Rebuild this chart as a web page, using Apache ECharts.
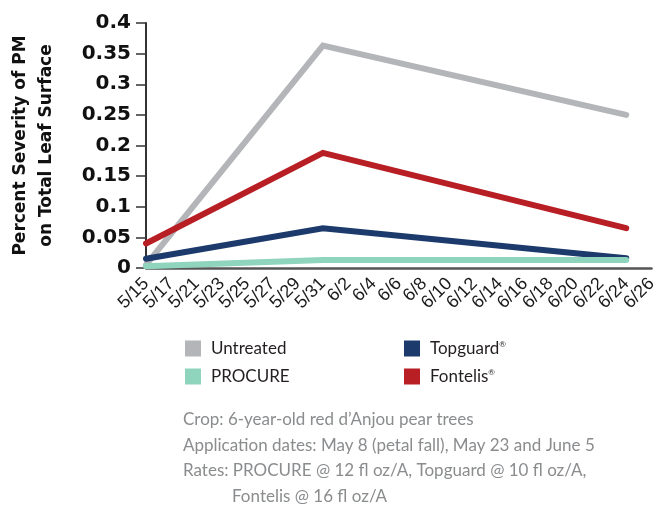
<!DOCTYPE html>
<html><head><meta charset="utf-8">
<script src="https://cdn.jsdelivr.net/npm/echarts@6/dist/echarts.min.js"></script>
<style>html,body{margin:0;padding:0;background:#fff}#c{width:660px;height:508px}</style>
</head><body><div id="c"></div>
<script>
// x-axis tick labels (category axis)
const dateLabels = ['5/15','5/17','5/21','5/23','5/25','5/27','5/29','5/31','6/2','6/4','6/6','6/8','6/10','6/12','6/14','6/16','6/18','6/20','6/22','6/24','6/26'];
// sampling dates
const sampleDates = ['5/15','5/31','6/24'];
// series values (percent severity of PM)
const untreated = [0.005, 0.363, 0.250];
const procure   = [0.003, 0.013, 0.013];
const topguard  = [0.015, 0.065, 0.016];
const fontelis  = [0.040, 0.188, 0.065];
// footnotes
const notes = [
  'Crop: 6-year-old red d\u2019Anjou pear trees',
  'Application dates: May 8 (petal fall), May 23 and June 5',
  'Rates: PROCURE @ 12 fl oz/A, Topguard @ 10 fl oz/A,',
  'Fontelis @ 16 fl oz/A'
];

const pair = vals => sampleDates.map((d, i) => [d, vals[i]]);
const colors = {Untreated:'#b3b5b8', PROCURE:'#8fd4bc', Topguard:'#1c3a6b', Fontelis:'#b81f25'};
const mk = (name, vals) => ({
  name, type:'line', data: pair(vals), showSymbol:false, symbol:'none',
  lineStyle:{width:6, color:colors[name], cap:'round', join:'miter'},
  itemStyle:{color:colors[name]}, animation:false
});
const legendText = {
  color:'#231f20', fontFamily:'Lato', fontSize:17, padding:[0,0,0,5],
  rich:{ n:{fontFamily:'Lato', fontSize:17, color:'#231f20', lineHeight:16},
         sup:{fontFamily:'Lato', fontSize:8, color:'#231f20', lineHeight:16, verticalAlign:'top', padding:[0,0,6,0]} }
};
const legendFmt = name => (name === 'Topguard' || name === 'Fontelis') ? '{n|' + name + '}{sup|\u00ae}' : '{n|' + name + '}';
const lineY = [421, 447, 472.5, 498];
const lineX = [183, 183, 183, 232];

const chart = echarts.init(document.getElementById('c'), null, {renderer:'canvas'});
chart.setOption({
  animation:false,
  grid:{left:143, right:7, top:23, bottom:240, containLabel:false},
  xAxis:{
    type:'category', data:dateLabels, boundaryGap:false,
    axisLine:{lineStyle:{color:'#555', width:2.5}},
    axisTick:{show:false},
    axisLabel:{interval:0, rotate:45, margin:13, fontFamily:'Liberation Sans', fontSize:18, color:'#1a1a1a'},
    splitLine:{show:false}
  },
  yAxis:{
    type:'value', min:0, max:0.4, interval:0.05,
    name:'Percent Severity of PM\non Total Leaf Surface',
    nameLocation:'middle', nameRotate:90, nameGap:86,
    nameTextStyle:{fontFamily:'DejaVu Sans', fontWeight:'bold', fontSize:17, color:'#111', lineHeight:26, align:'center'},
    axisLine:{show:true, lineStyle:{color:'#333', width:2}},
    axisTick:{show:true, length:10, lineStyle:{color:'#333', width:1.5}},
    axisLabel:{margin:15, fontFamily:'DejaVu Sans', fontWeight:'bold', fontSize:20, color:'#111'},
    splitLine:{show:false}
  },
  legend:[
    {data:['Untreated','PROCURE'], orient:'vertical', left:185, top:340, padding:0, itemGap:11,
     icon:'rect', itemWidth:16, itemHeight:16, textStyle:legendText, formatter:legendFmt},
    {data:['Topguard','Fontelis'], orient:'vertical', left:404, top:340, padding:0, itemGap:11,
     icon:'rect', itemWidth:16, itemHeight:16, textStyle:legendText, formatter:legendFmt}
  ],
  graphic: notes.map((t, i) => ({
    type:'text', left:lineX[i], top:lineY[i] - 10,
    style:{text:t, fontFamily:'Lato', fontSize:17, fill:'#8a8c8e'}
  })),
  series:[
    mk('Untreated', untreated),
    mk('Fontelis', fontelis),
    mk('Topguard', topguard),
    mk('PROCURE', procure)
  ]
});
</script></body></html>
